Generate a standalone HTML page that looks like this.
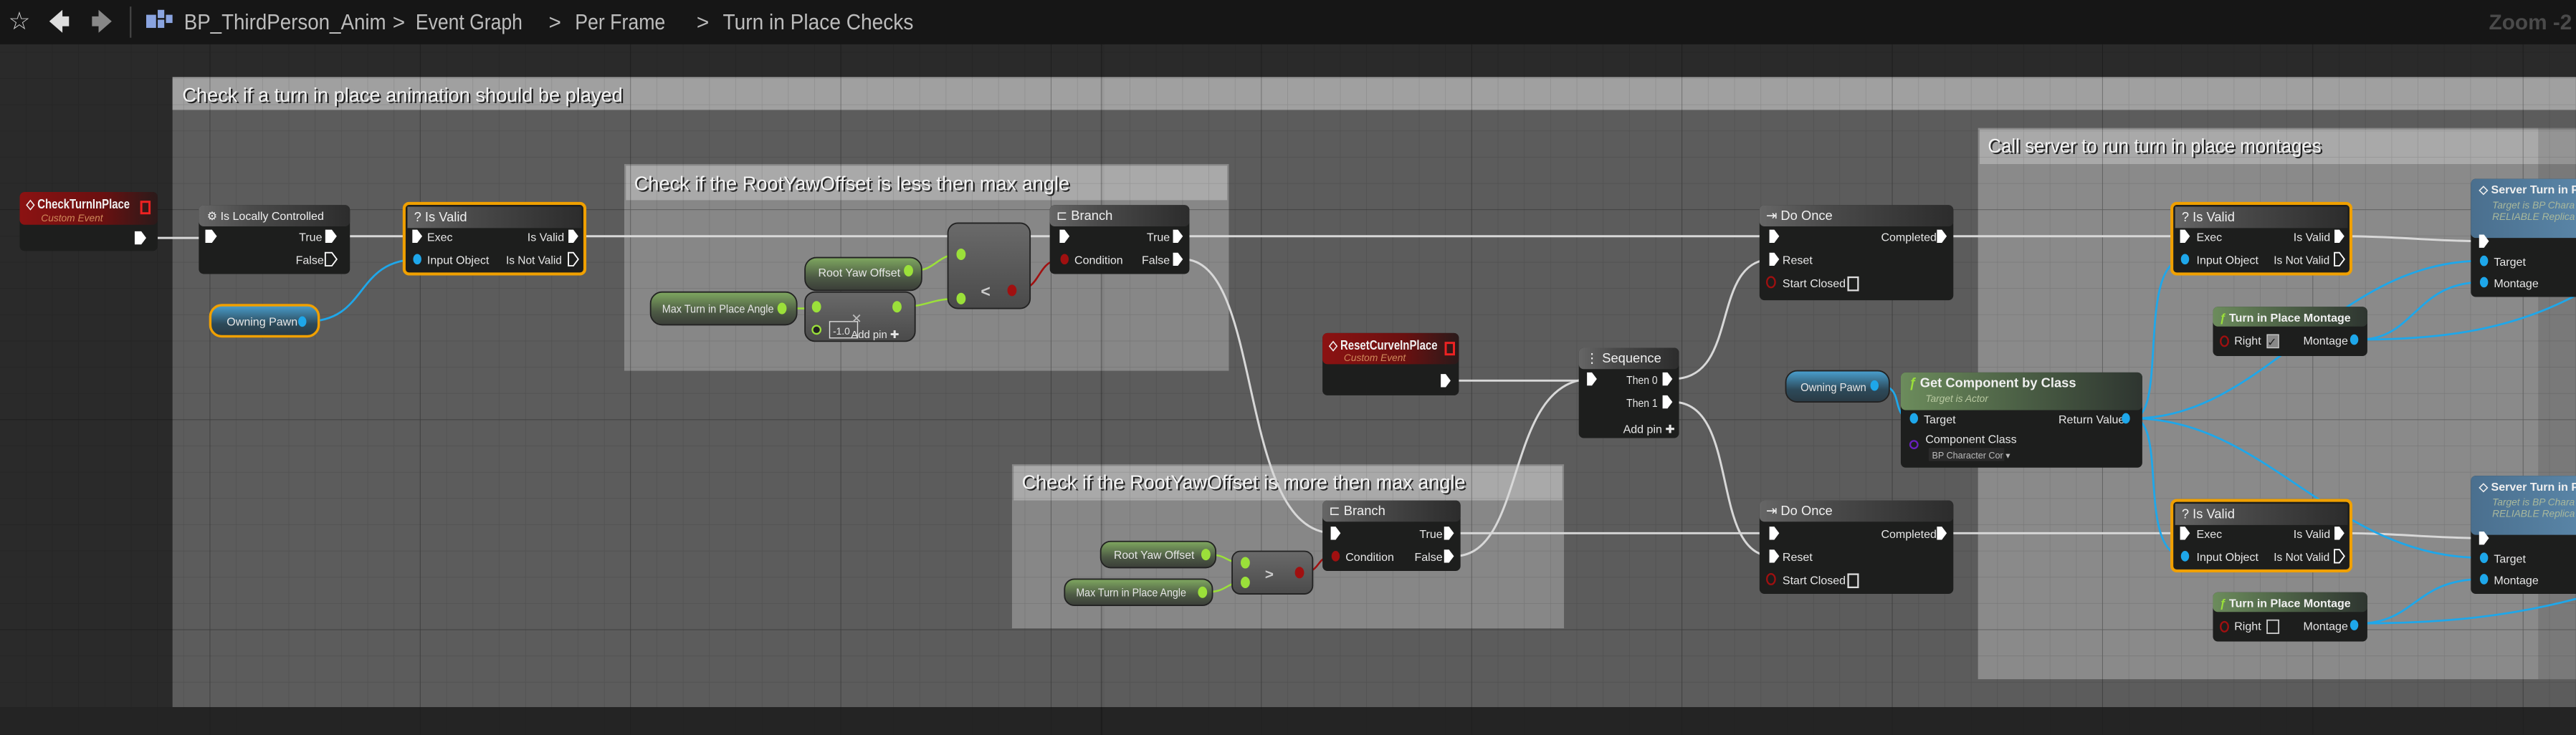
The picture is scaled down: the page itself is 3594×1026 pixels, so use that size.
<!DOCTYPE html>
<html><head><meta charset="utf-8"><style>
html,body{margin:0;padding:0;background:#262626;overflow:hidden}
svg{display:block}
text{font-family:"Liberation Sans",sans-serif}
.t{fill:#e6e6e6;font-size:7px}
.h{fill:#f0f0f0;font-size:8px;font-weight:bold}
.c{fill:#f4f4f4;font-size:12px}
.cs{fill:#222;font-size:12px}
.w{fill:none;stroke:#d8d8d8;stroke-width:1.3}
.b{fill:none;stroke:#1ea7ea;stroke-width:1.2}
.g{fill:none;stroke:#9be03a;stroke-width:1.1}
</style></head><body>
<svg width="3594" height="1026" viewBox="0 0 1568 448" preserveAspectRatio="none" xmlns="http://www.w3.org/2000/svg">
<defs>
<pattern id="grid" width="16" height="16" patternUnits="userSpaceOnUse"><path d="M16 0V16H0" fill="none" stroke="#000" stroke-opacity="0.12" stroke-width="0.6"/></pattern>
<pattern id="gridL" width="128" height="128" patternUnits="userSpaceOnUse"><path d="M128 0V128H0" fill="none" stroke="#000" stroke-opacity="0.25" stroke-width="0.8"/></pattern>
<linearGradient id="hg" x1="0" x2="1"><stop offset="0" stop-color="#666"/><stop offset="0.35" stop-color="#4a4a4a"/><stop offset="1" stop-color="#2c2c2c"/></linearGradient>
<linearGradient id="rg" x1="0" x2="1"><stop offset="0" stop-color="#8c1212"/><stop offset="0.6" stop-color="#6a1010"/><stop offset="1" stop-color="#2a1a1a"/></linearGradient>
<linearGradient id="gg" x1="0" x2="1"><stop offset="0" stop-color="#6c8c5c"/><stop offset="0.5" stop-color="#4b5f45"/><stop offset="1" stop-color="#2e3530"/></linearGradient>
<linearGradient id="bg2" x1="0" x2="1"><stop offset="0" stop-color="#4a6f8e"/><stop offset="1" stop-color="#5a86a8"/></linearGradient>
<linearGradient id="vg" x1="0" y1="0" x2="0" y2="1"><stop offset="0" stop-color="#7fa860"/><stop offset="0.6" stop-color="#4d5a45"/><stop offset="1" stop-color="#3a3d38"/></linearGradient>
<linearGradient id="pv" x1="0" y1="0" x2="0" y2="1"><stop offset="0" stop-color="#4aa0d0"/><stop offset="0.6" stop-color="#2d4a5a"/><stop offset="1" stop-color="#2a3a44"/></linearGradient>
<linearGradient id="op" x1="0" y1="0" x2="0" y2="1"><stop offset="0" stop-color="#6a6a6a"/><stop offset="1" stop-color="#4a4a4a"/></linearGradient>
</defs>
<rect x="0" y="27" width="1568" height="421" fill="#2a2a2a"/>
<rect x="105" y="47" width="1463" height="384" fill="#5c5c5c"/>
<rect x="105" y="47" width="1463" height="20" fill="#a0a0a0"/>
<rect x="380" y="100" width="368" height="126" fill="#878787"/>
<rect x="381" y="101" width="366" height="21" fill="#a9a9a9"/>
<rect x="616" y="283" width="336" height="100" fill="#878787"/>
<rect x="617" y="284" width="334" height="21" fill="#a9a9a9"/>
<rect x="1204" y="78" width="364" height="336" fill="#8a8a8a"/>
<rect x="1205" y="79" width="363" height="21" fill="#a9a9a9"/>
<rect x="1545" y="78" width="23" height="336" fill="#000" opacity="0.12"/>
<rect x="0" y="27" width="1568" height="421" fill="url(#grid)"/>
<rect x="0" y="27" width="1568" height="421" fill="url(#gridL)"/>
<rect x="0" y="431" width="1568" height="17" fill="#222" opacity="0.6"/>
<text x="112" y="62.8" class="cs" textLength="268" lengthAdjust="spacingAndGlyphs">Check if a turn in place animation should be played</text>
<text x="111" y="62" class="c" textLength="268" lengthAdjust="spacingAndGlyphs">Check if a turn in place animation should be played</text>
<text x="387" y="116.8" class="cs" textLength="265" lengthAdjust="spacingAndGlyphs">Check if the RootYawOffset is less then max angle</text>
<text x="386" y="116" class="c" textLength="265" lengthAdjust="spacingAndGlyphs">Check if the RootYawOffset is less then max angle</text>
<text x="623" y="298.8" class="cs" textLength="270" lengthAdjust="spacingAndGlyphs">Check if the RootYawOffset is more then max angle</text>
<text x="622" y="298" class="c" textLength="270" lengthAdjust="spacingAndGlyphs">Check if the RootYawOffset is more then max angle</text>
<text x="1211" y="93.8" class="cs" textLength="203" lengthAdjust="spacingAndGlyphs">Call server to run turn in place montages</text>
<text x="1210" y="93" class="c" textLength="203" lengthAdjust="spacingAndGlyphs">Call server to run turn in place montages</text>

<rect x="0" y="0" width="1568" height="27" fill="#161616"/>
<text x="5" y="18" style="fill:#ccc;font-size:15px">☆</text>
<path d="M30 13 L38 6 V10 H42 V16 H38 V20 Z" fill="#ddd"/>
<path d="M68 13 L60 6 V10 H56 V16 H60 V20 Z" fill="#888"/>
<rect x="79" y="4" width="1" height="19" fill="#444"/>
<rect x="89" y="9" width="6" height="8" fill="#8aa4e0"/><rect x="96" y="6" width="4" height="5" fill="#8aa4e0"/><rect x="96" y="12" width="4" height="5" fill="#8aa4e0"/><rect x="101" y="9" width="4" height="5" fill="#8aa4e0"/>
<text x="112" y="18" style="fill:#bcbcbc;font-size:13.5px" textLength="123" lengthAdjust="spacingAndGlyphs">BP_ThirdPerson_Anim</text>
<text x="239" y="18" style="fill:#bcbcbc;font-size:13px">&gt;</text>
<text x="253" y="18" style="fill:#bcbcbc;font-size:13.5px" textLength="65" lengthAdjust="spacingAndGlyphs">Event Graph</text>
<text x="334" y="18" style="fill:#bcbcbc;font-size:13px">&gt;</text>
<text x="350" y="18" style="fill:#bcbcbc;font-size:13.5px" textLength="55" lengthAdjust="spacingAndGlyphs">Per Frame</text>
<text x="424" y="18" style="fill:#bcbcbc;font-size:13px">&gt;</text>
<text x="440" y="18" style="fill:#bcbcbc;font-size:13.5px" textLength="116" lengthAdjust="spacingAndGlyphs">Turn in Place Checks</text>
<text x="1515" y="18" style="fill:#4a4a4a;font-size:13px;font-weight:bold">Zoom -2</text>
<rect x="670" y="27" width="1" height="421" fill="#000" opacity="0.2"/>

<path class="w" d="M90 145 H128"/>
<path class="w" d="M205 144 H255"/>
<path class="w" d="M352 144 H647"/>
<path class="w" d="M720 144 H1079"/>
<path class="w" d="M1185 144 H1330"/>
<path class="w" d="M1427 144 C1460 144 1480 147 1511 147"/>
<path class="w" d="M720 158 C770 158 752 325 812 325"/>
<path class="w" d="M884 232 H969"/>
<path class="w" d="M885 339 C930 339 915 231 969 231"/>
<path class="w" d="M1018 231 C1060 231 1040 158 1079 158"/>
<path class="w" d="M1018 245 C1060 245 1040 339 1079 339"/>
<path class="w" d="M885 325 H1079"/>
<path class="w" d="M1185 325 H1330"/>
<path class="w" d="M1427 325 C1460 325 1480 328 1511 328"/>
<path class="b" d="M186 196 C225 196 215 158 255 158"/>
<path class="b" d="M1144 235 C1160 235 1150 255 1164 255"/>
<path class="b" d="M1298 255 C1320 255 1300 158 1330 158"/>
<path class="b" d="M1298 255 C1320 255 1300 339 1330 339"/>
<path class="b" d="M1298 255 C1380 255 1420 159 1511 159"/>
<path class="b" d="M1298 255 C1380 255 1420 340 1511 340"/>
<path class="b" d="M1436 207 C1470 207 1470 172 1511 172"/>
<path class="b" d="M1436 207 C1490 207 1530 200 1568 180"/>
<path class="b" d="M1436 380 C1470 380 1470 353 1511 353"/>
<path class="b" d="M1436 380 C1490 380 1530 375 1568 365"/>
<path class="g" d="M556 165 C570 165 570 155 584 155"/>
<path class="g" d="M548 187 C565 187 566 182 584 182"/>
<path class="g" d="M478 188 H497"/>
<path class="g" d="M735 338 C748 338 745 343 757 343"/>
<path class="g" d="M733 361 C748 361 745 355 757 355"/>
<path fill="none" stroke="#a01010" stroke-width="1.1" d="M618 177 C635 177 630 158 647 158"/>
<path fill="none" stroke="#a01010" stroke-width="1.1" d="M792 349 C805 349 800 339 812 339"/>

<rect x="12" y="117" width="84" height="36" rx="3" fill="#1d1e1d"/>
<rect x="12" y="117" width="84" height="20" rx="3" fill="url(#rg)"/>
<text x="16" y="127" class="h" textLength="63" lengthAdjust="spacingAndGlyphs">◇ CheckTurnInPlace</text>
<text x="25" y="135" style="fill:#d08a5a;font-size:6px;font-style:italic">Custom Event</text>
<rect x="86" y="123" width="5" height="7" fill="none" stroke="#e22" stroke-width="1.3"/>
<path d="M82 141 h4 l3 4 l-3 4 h-4z" fill="#fff"/>

<rect x="121" y="125" width="92" height="42" rx="3" fill="#1d1e1d"/>
<rect x="121" y="125" width="92" height="13" rx="3" fill="url(#hg)"/>
<text x="126" y="134" class="h" style="font-size:7px;font-weight:normal">⚙ Is Locally Controlled</text>
<path d="M125 140 h4 l3 4 l-3 4 h-4z" fill="#fff"/>
<text x="182" y="147" class="t">True</text><path d="M198 140 h4 l3 4 l-3 4 h-4z" fill="#fff"/>
<text x="180" y="161" class="t">False</text><path d="M198 154 h4 l3 4 l-3 4 h-4z" fill="none" stroke="#fff" stroke-width="0.8"/>

<rect x="246" y="124" width="110" height="43" rx="3" fill="#1d1e1d" stroke="#f0a000" stroke-width="1.8"/>
<rect x="248" y="126" width="106" height="13" fill="url(#hg)"/>
<text x="252" y="135" class="h" style="font-weight:normal">?  Is Valid</text>
<path d="M251 140 h3 l3 4 l-3 4 h-3z" fill="#fff"/><text x="260" y="147" class="t">Exec</text>
<text x="321" y="147" class="t">Is Valid</text><path d="M346 140 h3 l3 4 l-3 4 h-3z" fill="#fff"/>
<ellipse cx="254" cy="158" rx="2.5" ry="3.2" fill="#1ea7ea"/><text x="260" y="161" class="t">Input Object</text>
<text x="308" y="161" class="t" textLength="34" lengthAdjust="spacingAndGlyphs">Is Not Valid</text><path d="M346 154 h3 l3 4 l-3 4 h-3z" fill="none" stroke="#fff" stroke-width="0.8"/>

<rect x="128" y="186" width="66" height="19" rx="7" fill="url(#pv)" stroke="#f0a000" stroke-width="1.5"/>
<text x="138" y="198.5" class="t">Owning Pawn</text><ellipse cx="184" cy="196" rx="2.5" ry="3.2" fill="#1ea7ea"/>

<rect x="639" y="125" width="85" height="42" rx="3" fill="#1d1e1d"/>
<rect x="639" y="125" width="85" height="13" rx="3" fill="url(#hg)"/>
<text x="643" y="134" class="h" style="font-weight:normal">⊏ Branch</text>
<path d="M645 140 h3 l3 4 l-3 4 h-3z" fill="#fff"/>
<text x="698" y="147" class="t">True</text><path d="M714 140 h3 l3 4 l-3 4 h-3z" fill="#fff"/>
<ellipse cx="648" cy="158" rx="2.5" ry="3.2" fill="#a01010"/><text x="654" y="161" class="t">Condition</text>
<text x="695" y="161" class="t">False</text><path d="M714 154 h3 l3 4 l-3 4 h-3z" fill="#fff"/>

<rect x="490" y="157" width="71" height="20" rx="7" fill="url(#vg)" stroke="#222" stroke-width="0.8"/>
<text x="498" y="168.5" class="t" textLength="50" lengthAdjust="spacingAndGlyphs">Root Yaw Offset</text><ellipse cx="553" cy="165" rx="2.8" ry="3.5" fill="#9be03a"/>
<rect x="396" y="178" width="89" height="20" rx="7" fill="url(#vg)" stroke="#222" stroke-width="0.8"/>
<text x="403" y="190.5" class="t" textLength="68" lengthAdjust="spacingAndGlyphs">Max Turn in Place Angle</text><ellipse cx="476" cy="188" rx="2.8" ry="3.5" fill="#9be03a"/>
<rect x="490" y="178" width="67" height="30" rx="6" fill="url(#op)" stroke="#222" stroke-width="0.8"/>
<ellipse cx="497" cy="187" rx="2.8" ry="3.5" fill="#9be03a"/><ellipse cx="546" cy="187" rx="2.8" ry="3.5" fill="#9be03a"/>
<circle cx="497" cy="201" r="2.5" fill="#222" stroke="#9be03a"/>
<rect x="505" y="196" width="17" height="10" fill="none" stroke="#ddd" stroke-width="0.6"/>
<text x="507" y="204" class="t" style="font-size:6px">-1.0</text>
<text x="518" y="206" class="t" style="font-size:6.5px">Add pin ✚</text>
<text x="518" y="197" style="fill:#bbb;font-size:8px">✕</text>
<rect x="577" y="136" width="50" height="52" rx="6" fill="url(#op)" stroke="#222" stroke-width="0.8"/>
<ellipse cx="585" cy="155" rx="2.8" ry="3.5" fill="#9be03a"/><ellipse cx="585" cy="182" rx="2.8" ry="3.5" fill="#9be03a"/>
<text x="597" y="181" style="fill:#ccc;font-size:10px;font-weight:bold">&lt;</text>
<ellipse cx="616" cy="177" rx="2.8" ry="3.5" fill="#a01010"/>

<rect x="1071" y="125" width="118" height="58" rx="3" fill="#1d1e1d"/>
<rect x="1071" y="125" width="118" height="13" rx="3" fill="url(#hg)"/>
<text x="1075" y="134" class="h" style="font-weight:normal">⇥ Do Once</text>
<path d="M1077 140 h3 l3 4 l-3 4 h-3z" fill="#fff"/>
<text x="1145" y="147" class="t">Completed</text><path d="M1179 140 h3 l3 4 l-3 4 h-3z" fill="#fff"/>
<path d="M1077 154 h3 l3 4 l-3 4 h-3z" fill="#fff"/><text x="1085" y="161" class="t">Reset</text>
<ellipse cx="1078" cy="172" rx="2.5" ry="3.2" fill="none" stroke="#a01010"/><text x="1085" y="175" class="t">Start Closed</text>
<rect x="1125" y="169" width="6" height="8" fill="none" stroke="#ddd"/>

<rect x="1071" y="305" width="118" height="57" rx="3" fill="#1d1e1d"/>
<rect x="1071" y="305" width="118" height="13" rx="3" fill="url(#hg)"/>
<text x="1075" y="314" class="h" style="font-weight:normal">⇥ Do Once</text>
<path d="M1077 321 h3 l3 4 l-3 4 h-3z" fill="#fff"/>
<text x="1145" y="328" class="t">Completed</text><path d="M1179 321 h3 l3 4 l-3 4 h-3z" fill="#fff"/>
<path d="M1077 335 h3 l3 4 l-3 4 h-3z" fill="#fff"/><text x="1085" y="342" class="t">Reset</text>
<ellipse cx="1078" cy="353" rx="2.5" ry="3.2" fill="none" stroke="#a01010"/><text x="1085" y="356" class="t">Start Closed</text>
<rect x="1125" y="350" width="6" height="8" fill="none" stroke="#ddd"/>

<rect x="805" y="203" width="83" height="38" rx="3" fill="#1d1e1d"/>
<rect x="805" y="203" width="83" height="19" rx="3" fill="url(#rg)"/>
<text x="809" y="213" class="h" textLength="66" lengthAdjust="spacingAndGlyphs">◇ ResetCurveInPlace</text>
<text x="818" y="220" style="fill:#d08a5a;font-size:6px;font-style:italic">Custom Event</text>
<rect x="880" y="209" width="5" height="7" fill="none" stroke="#e22" stroke-width="1.3"/>
<path d="M877 228 h3 l3 4 l-3 4 h-3z" fill="#fff"/>

<rect x="961" y="212" width="61" height="55" rx="3" fill="#1d1e1d"/>
<rect x="961" y="212" width="61" height="13" rx="3" fill="url(#hg)"/>
<text x="965" y="221" class="h" style="font-weight:normal">⋮ Sequence</text>
<path d="M966 227 h3 l3 4 l-3 4 h-3z" fill="#fff"/>
<text x="990" y="234" class="t" textLength="19" lengthAdjust="spacingAndGlyphs">Then 0</text><path d="M1012 227 h3 l3 4 l-3 4 h-3z" fill="#fff"/>
<text x="990" y="248" class="t" textLength="19" lengthAdjust="spacingAndGlyphs">Then 1</text><path d="M1012 241 h3 l3 4 l-3 4 h-3z" fill="#fff"/>
<text x="988" y="264" class="t">Add pin ✚</text>

<rect x="1087" y="226" width="63" height="19" rx="7" fill="url(#pv)" stroke="#222" stroke-width="0.8"/>
<text x="1096" y="238.5" class="t" textLength="40" lengthAdjust="spacingAndGlyphs">Owning Pawn</text><ellipse cx="1141" cy="235" rx="2.5" ry="3.2" fill="#1ea7ea"/>

<rect x="1157" y="227" width="147" height="58" rx="3" fill="#1d1e1d"/>
<rect x="1157" y="227" width="147" height="23" rx="3" fill="url(#gg)"/>
<text x="1162" y="236" class="h"><tspan style="fill:#9be03a;font-style:italic">ƒ</tspan> Get Component by Class</text>
<text x="1172" y="245" style="fill:#b8c8a0;font-size:6px;font-style:italic">Target is Actor</text>
<ellipse cx="1165" cy="255" rx="2.5" ry="3.2" fill="#1ea7ea"/><text x="1171" y="258" class="t">Target</text>
<text x="1253" y="258" class="t">Return Value</text><ellipse cx="1294" cy="255" rx="2.5" ry="3.2" fill="#1ea7ea"/>
<circle cx="1165" cy="271" r="2.3" fill="none" stroke="#6a20c0"/><text x="1172" y="270" class="t">Component Class</text>
<rect x="1174" y="273" width="46" height="8" fill="#2a2a2a"/><text x="1176" y="279.5" class="t" style="font-size:5.5px;fill:#bbb">BP Character Cor ▾</text>

<rect x="1322" y="124" width="109" height="43" rx="3" fill="#1d1e1d" stroke="#f0a000" stroke-width="1.8"/>
<rect x="1324" y="126" width="105" height="13" fill="url(#hg)"/>
<text x="1328" y="135" class="h" style="font-weight:normal">?  Is Valid</text>
<path d="M1327 140 h3 l3 4 l-3 4 h-3z" fill="#fff"/><text x="1337" y="147" class="t">Exec</text>
<text x="1396" y="147" class="t">Is Valid</text><path d="M1421 140 h3 l3 4 l-3 4 h-3z" fill="#fff"/>
<ellipse cx="1330" cy="158" rx="2.5" ry="3.2" fill="#1ea7ea"/><text x="1337" y="161" class="t">Input Object</text>
<text x="1384" y="161" class="t" textLength="34" lengthAdjust="spacingAndGlyphs">Is Not Valid</text><path d="M1421 154 h3 l3 4 l-3 4 h-3z" fill="none" stroke="#fff" stroke-width="0.8"/>

<rect x="1322" y="305" width="109" height="43" rx="3" fill="#1d1e1d" stroke="#f0a000" stroke-width="1.8"/>
<rect x="1324" y="307" width="105" height="13" fill="url(#hg)"/>
<text x="1328" y="316" class="h" style="font-weight:normal">?  Is Valid</text>
<path d="M1327 321 h3 l3 4 l-3 4 h-3z" fill="#fff"/><text x="1337" y="328" class="t">Exec</text>
<text x="1396" y="328" class="t">Is Valid</text><path d="M1421 321 h3 l3 4 l-3 4 h-3z" fill="#fff"/>
<ellipse cx="1330" cy="339" rx="2.5" ry="3.2" fill="#1ea7ea"/><text x="1337" y="342" class="t">Input Object</text>
<text x="1384" y="342" class="t" textLength="34" lengthAdjust="spacingAndGlyphs">Is Not Valid</text><path d="M1421 335 h3 l3 4 l-3 4 h-3z" fill="none" stroke="#fff" stroke-width="0.8"/>

<rect x="1347" y="187" width="94" height="30" rx="3" fill="#1d1e1d"/>
<rect x="1347" y="187" width="94" height="12" rx="3" fill="url(#gg)"/>
<text x="1351" y="196" class="h" style="font-size:7px"><tspan style="fill:#9be03a;font-style:italic">ƒ</tspan> Turn in Place Montage</text>
<ellipse cx="1354" cy="208" rx="2.3" ry="3" fill="none" stroke="#a01010"/><text x="1360" y="210" class="t">Right</text>
<rect x="1380" y="204" width="7" height="8" fill="#888" stroke="#ccc" stroke-width="0.6"/><text x="1380" y="211" style="fill:#222;font-size:7px">✓</text>
<text x="1402" y="210" class="t">Montage</text><ellipse cx="1433" cy="207" rx="2.5" ry="3.2" fill="#1ea7ea"/>

<rect x="1347" y="361" width="94" height="30" rx="3" fill="#1d1e1d"/>
<rect x="1347" y="361" width="94" height="12" rx="3" fill="url(#gg)"/>
<text x="1351" y="370" class="h" style="font-size:7px"><tspan style="fill:#9be03a;font-style:italic">ƒ</tspan> Turn in Place Montage</text>
<ellipse cx="1354" cy="382" rx="2.3" ry="3" fill="none" stroke="#a01010"/><text x="1360" y="384" class="t">Right</text>
<rect x="1380" y="378" width="7" height="8" fill="none" stroke="#ccc" stroke-width="0.8"/>
<text x="1402" y="384" class="t">Montage</text><ellipse cx="1433" cy="381" rx="2.5" ry="3.2" fill="#1ea7ea"/>

<rect x="1504" y="109" width="70" height="72" rx="3" fill="#1d1e1d"/>
<rect x="1504" y="109" width="70" height="36" rx="3" fill="url(#bg2)"/>
<text x="1509" y="118" class="h" style="font-size:7px">◇ Server Turn in Pla</text>
<text x="1517" y="127" style="fill:#a9b89c;font-size:6px;font-style:italic">Target is BP Chara</text>
<text x="1517" y="134" style="fill:#a9b89c;font-size:6px;font-style:italic">RELIABLE Replica</text>
<path d="M1509 143 h3 l3 4 l-3 4 h-3z" fill="#fff"/>
<ellipse cx="1512" cy="159" rx="2.5" ry="3.2" fill="#1ea7ea"/><text x="1518" y="162" class="t">Target</text>
<ellipse cx="1512" cy="172" rx="2.5" ry="3.2" fill="#1ea7ea"/><text x="1518" y="175" class="t">Montage</text>

<rect x="1504" y="290" width="70" height="72" rx="3" fill="#1d1e1d"/>
<rect x="1504" y="290" width="70" height="36" rx="3" fill="url(#bg2)"/>
<text x="1509" y="299" class="h" style="font-size:7px">◇ Server Turn in Pla</text>
<text x="1517" y="308" style="fill:#a9b89c;font-size:6px;font-style:italic">Target is BP Chara</text>
<text x="1517" y="315" style="fill:#a9b89c;font-size:6px;font-style:italic">RELIABLE Replica</text>
<path d="M1509 324 h3 l3 4 l-3 4 h-3z" fill="#fff"/>
<ellipse cx="1512" cy="340" rx="2.5" ry="3.2" fill="#1ea7ea"/><text x="1518" y="343" class="t">Target</text>
<ellipse cx="1512" cy="353" rx="2.5" ry="3.2" fill="#1ea7ea"/><text x="1518" y="356" class="t">Montage</text>

<rect x="805" y="305" width="84" height="43" rx="3" fill="#1d1e1d"/>
<rect x="805" y="305" width="84" height="13" rx="3" fill="url(#hg)"/>
<text x="809" y="314" class="h" style="font-weight:normal">⊏ Branch</text>
<path d="M810 321 h3 l3 4 l-3 4 h-3z" fill="#fff"/>
<text x="864" y="328" class="t">True</text><path d="M879 321 h3 l3 4 l-3 4 h-3z" fill="#fff"/>
<ellipse cx="813" cy="339" rx="2.5" ry="3.2" fill="#a01010"/><text x="819" y="342" class="t">Condition</text>
<text x="861" y="342" class="t">False</text><path d="M879 335 h3 l3 4 l-3 4 h-3z" fill="#fff"/>

<rect x="670" y="330" width="70" height="16" rx="6" fill="url(#vg)" stroke="#222" stroke-width="0.8"/>
<text x="678" y="340.5" class="t" textLength="49" lengthAdjust="spacingAndGlyphs">Root Yaw Offset</text><ellipse cx="734" cy="338" rx="2.8" ry="3.5" fill="#9be03a"/>
<rect x="648" y="353" width="90" height="16" rx="6" fill="url(#vg)" stroke="#222" stroke-width="0.8"/>
<text x="655" y="363.5" class="t" textLength="67" lengthAdjust="spacingAndGlyphs">Max Turn in Place Angle</text><ellipse cx="732" cy="361" rx="2.8" ry="3.5" fill="#9be03a"/>
<rect x="750" y="336" width="49" height="26" rx="5" fill="url(#op)" stroke="#222" stroke-width="0.8"/>
<ellipse cx="758" cy="343" rx="2.8" ry="3.5" fill="#9be03a"/><ellipse cx="758" cy="355" rx="2.8" ry="3.5" fill="#9be03a"/>
<text x="770" y="353" style="fill:#ccc;font-size:9px;font-weight:bold">&gt;</text>
<ellipse cx="791" cy="349" rx="2.8" ry="3.5" fill="#a01010"/>
</svg>
</body></html>
